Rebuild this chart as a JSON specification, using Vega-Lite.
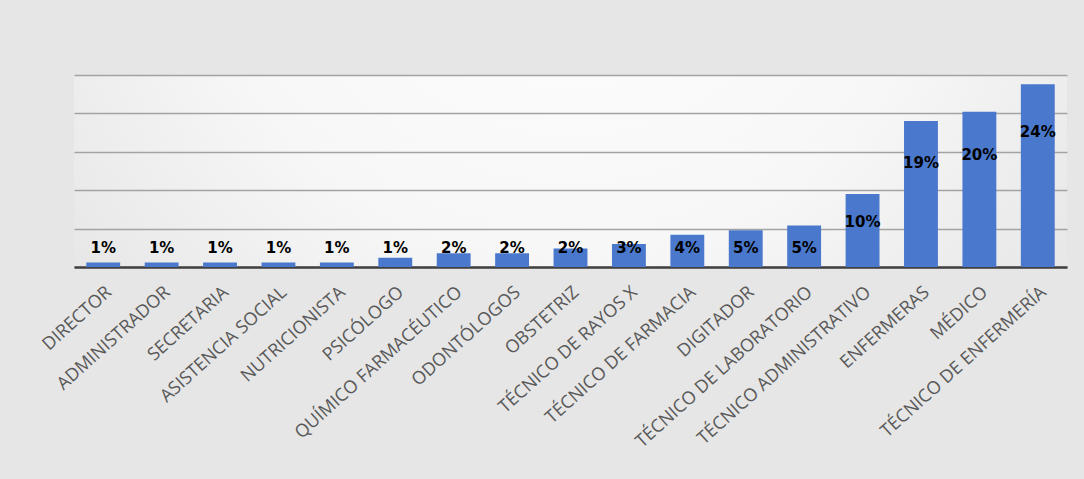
{
  "$schema": "https://vega.github.io/schema/vega-lite/v6.json",
  "width": 993,
  "height": 192,
  "autosize": {"type": "none"},
  "padding": {"left": 74, "top": 75, "right": 17, "bottom": 212},
  "background": "#e6e6e6",
  "view": {
    "stroke": null,
    "fill": {
      "gradient": "radial",
      "x1": 0.5, "y1": 0.2, "x2": 0.5, "y2": 0.2, "r1": 0, "r2": 0.85,
      "stops": [
        {"offset": 0, "color": "#ffffff"},
        {"offset": 0.45, "color": "#f7f7f7"},
        {"offset": 1, "color": "#dadada"}
      ]
    }
  },
  "data": {
    "values": [
      {"puesto": "DIRECTOR", "value": 0.006},
      {"puesto": "ADMINISTRADOR", "value": 0.006},
      {"puesto": "SECRETARIA", "value": 0.006},
      {"puesto": "ASISTENCIA SOCIAL", "value": 0.006},
      {"puesto": "NUTRICIONISTA", "value": 0.006},
      {"puesto": "PSICÓLOGO", "value": 0.012},
      {"puesto": "QUÍMICO FARMACÉUTICO", "value": 0.018},
      {"puesto": "ODONTÓLOGOS", "value": 0.018},
      {"puesto": "OBSTETRIZ", "value": 0.024},
      {"puesto": "TÉCNICO DE RAYOS X", "value": 0.030},
      {"puesto": "TÉCNICO DE FARMACIA", "value": 0.042},
      {"puesto": "DIGITADOR", "value": 0.048},
      {"puesto": "TÉCNICO DE LABORATORIO", "value": 0.054},
      {"puesto": "TÉCNICO ADMINISTRATIVO", "value": 0.0952},
      {"puesto": "ENFERMERAS", "value": 0.190},
      {"puesto": "MÉDICO", "value": 0.202},
      {"puesto": "TÉCNICO DE ENFERMERÍA", "value": 0.238}
    ]
  },
  "encoding": {
    "x": {
      "field": "puesto",
      "type": "nominal",
      "sort": null,
      "scale": {"paddingInner": 0.42, "paddingOuter": 0.21},
      "axis": {
        "title": null,
        "labelAngle": -42,
        "labelFont": "Open Sans",
        "labelFontSize": 18,
        "labelColor": "#595959",
        "labelPadding": 16,
        "ticks": false,
        "domainColor": "#404040",
        "domainWidth": 2.5,
        "labelLimit": 400
      }
    }
  },
  "layer": [
    {
      "mark": {"type": "bar", "color": "#4a78cc"},
      "encoding": {
        "y": {
          "field": "value",
          "type": "quantitative",
          "scale": {"domain": [0, 0.25], "nice": false},
          "axis": {
            "title": null,
            "labels": false,
            "ticks": false,
            "domain": false,
            "values": [0, 0.05, 0.1, 0.15, 0.2, 0.25],
            "gridColor": "#a3a3a3",
            "gridWidth": 1.5
          }
        }
      }
    },
    {
      "mark": {
        "type": "text",
        "font": "DejaVu Sans",
        "fontWeight": "bold",
        "fontSize": 15,
        "color": "#000000",
        "baseline": "middle",
        "y": {"expr": "scale('y', max(0.82 * datum.value - 0.02, 0.025))"}
      },
      "encoding": {
        "text": {"field": "value", "type": "quantitative", "format": ".0%"}
      }
    }
  ]
}
